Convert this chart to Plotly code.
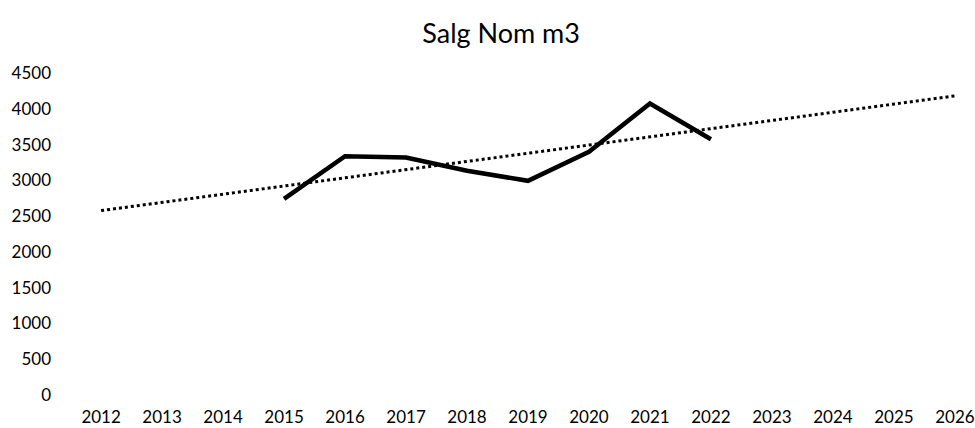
import numpy as np
import plotly.graph_objects as go

years = list(range(2012, 2027))
sales_years = [2015, 2016, 2017, 2018, 2019, 2020, 2021, 2022]
sales = [2740, 3338, 3320, 3133, 2993, 3398, 4074, 3575]
y_ticks = [0, 500, 1000, 1500, 2000, 2500, 3000, 3500, 4000, 4500]

# linear trend line (least squares on the sales data), extended over all years
coef = np.polyfit(sales_years, sales, 1)
trend = [float(np.polyval(coef, y)) for y in years]

fig = go.Figure()
fig.add_trace(go.Scatter(x=years, y=trend, mode="lines",
                         line=dict(color="black", width=3, dash="dot"),
                         hoverinfo="skip"))
fig.add_trace(go.Scatter(x=sales_years, y=sales, mode="lines",
                         line=dict(color="black", width=4.5)))

fig.update_layout(
    width=975, height=428,
    margin=dict(l=70, r=0, t=73, b=33),
    paper_bgcolor="white", plot_bgcolor="white",
    showlegend=False,
    font=dict(family="Lato, sans-serif", color="black", size=17),
    title=dict(text="Salg Nom m3", x=0.514, xanchor="center", y=0.922, yanchor="middle",
               font=dict(size=27, family="Lato, sans-serif", color="black")),
)
fig.update_xaxes(range=[2011.49, 2026.33], tickmode="array", tickvals=years,
                 ticktext=[str(y) for y in years], showgrid=False, zeroline=False,
                 showline=False, ticks="", ticklabelstandoff=10)
fig.update_yaxes(range=[0, 4500], tickmode="array", tickvals=y_ticks,
                 showgrid=False, zeroline=False, showline=False, ticks="",
                 ticklabelstandoff=18)

fig.write_html("out.html", config={"displayModeBar": False},
               post_script="document.body.style.margin='0';document.body.style.overflow='hidden';")
